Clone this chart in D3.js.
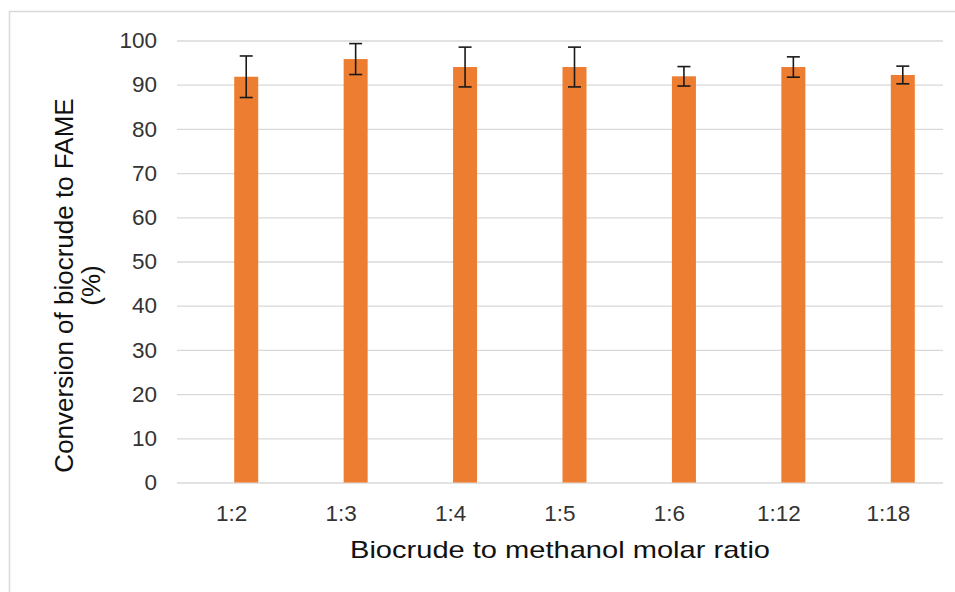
<!DOCTYPE html>
<html lang="en">

<head>
    <meta charset="UTF-8">
    <script src="https://d3js.org/d3.v7.min.js"></script>
    <title>Biocrude to FAME</title>
    <style>
        body {
            margin: 0;
            background: white;
        }

        svg text {
            font-family: Arial, "Liberation Sans", sans-serif;
        }
    </style>
</head>

<body>
    <div id="chart"></div>
    <script>
        /*---------------------- data ----------------------*/
        // molar ratios on the x axis
        const ratios = ["1:2", "1:3", "1:4", "1:5", "1:6", "1:12", "1:18"];
        // conversion of biocrude to FAME (%)
        const conversion = [91.8, 95.8, 94.0, 94.0, 91.9, 94.0, 92.2];
        // error bar half length (%)
        const errors = [4.7, 3.5, 4.5, 4.5, 2.2, 2.3, 2.0];
        // y tick values
        const yTicks = [0, 10, 20, 30, 40, 50, 60, 70, 80, 90, 100];

        /*-------------------- window setting --------------------*/
        const width = 955, height = 592;
        const plot = { left: 177, right: 943, top: 40.5, bottom: 482.5 };

        const svg = d3.select("#chart").append("svg")
            .attr("width", width)
            .attr("height", height);

        // light frame around the chart area
        svg.append("rect")
            .attr("x", 9.5).attr("y", 11.5)
            .attr("width", 980).attr("height", 620)
            .attr("fill", "none")
            .attr("stroke", "#d9d9d9")
            .attr("stroke-width", 1.5);

        /*---------------------- scales ----------------------*/
        const x = d3.scaleBand()
            .domain(ratios)
            .range([plot.left, plot.right]);

        const y = d3.scaleLinear()
            .domain([0, 100])
            .range([plot.bottom, plot.top]);

        const barW = 24;
        // bars sit slightly right of the category centre, like the original
        const barShift = 14.5;

        /*---------------------- grid + y axis ----------------------*/
        const yAxis = svg.append("g")
            .attr("transform", `translate(${plot.left},0)`)
            .call(d3.axisLeft(y).tickValues(yTicks).tickSize(-(plot.right - plot.left)).tickPadding(20));
        yAxis.select(".domain").remove();
        yAxis.selectAll(".tick line")
            .attr("stroke", "#d9d9d9")
            .attr("stroke-width", 1.3);
        yAxis.selectAll(".tick text")
            .attr("fill", "#333")
            .style("font-size", "22.5px");

        /*---------------------- x axis ----------------------*/
        const xAxis = svg.append("g")
            .attr("transform", `translate(0,${plot.bottom})`)
            .call(d3.axisBottom(x).tickSize(0).tickPadding(23));
        xAxis.select(".domain").remove();
        xAxis.selectAll(".tick text")
            .attr("fill", "#333")
            .style("font-size", "22.5px");

        /*---------------------- bars ----------------------*/
        const rows = ratios.map((r, i) => ({ ratio: r, value: conversion[i], err: errors[i] }));

        svg.append("g").selectAll("rect")
            .data(rows)
            .enter()
            .append("rect")
            .attr("x", d => x(d.ratio) + x.bandwidth() / 2 + barShift - barW / 2)
            .attr("y", d => y(d.value))
            .attr("width", barW)
            .attr("height", d => y(0) - y(d.value))
            .attr("fill", "#ed7d31");

        /*---------------------- error bars ----------------------*/
        const errG = svg.append("g")
            .attr("stroke", "#1a1a1a")
            .attr("stroke-width", 1.6);
        const cx = d => x(d.ratio) + x.bandwidth() / 2 + barShift;
        const cap = 6.5;

        errG.selectAll(".stem").data(rows).enter().append("line")
            .attr("x1", cx).attr("x2", cx)
            .attr("y1", d => y(d.value + d.err))
            .attr("y2", d => y(d.value - d.err));
        errG.selectAll(".capTop").data(rows).enter().append("line")
            .attr("x1", d => cx(d) - cap).attr("x2", d => cx(d) + cap)
            .attr("y1", d => y(d.value + d.err)).attr("y2", d => y(d.value + d.err));
        errG.selectAll(".capBot").data(rows).enter().append("line")
            .attr("x1", d => cx(d) - cap).attr("x2", d => cx(d) + cap)
            .attr("y1", d => y(d.value - d.err)).attr("y2", d => y(d.value - d.err));

        /*---------------------- axis titles ----------------------*/
        // the original text is a bit wider than plain Arial, so stretch it
        svg.append("text")
            .attr("x", 560)
            .attr("y", 558)
            .attr("text-anchor", "middle")
            .attr("fill", "#111")
            .attr("textLength", 420)
            .attr("lengthAdjust", "spacingAndGlyphs")
            .style("font-size", "24px")
            .text("Biocrude to methanol molar ratio");

        const yTitle = svg.append("text")
            .attr("transform", `translate(73,${(plot.top + plot.bottom) / 2 + 24}) rotate(-90)`)
            .attr("text-anchor", "middle")
            .attr("fill", "#111")
            .style("font-size", "26px");
        yTitle.append("tspan").attr("x", 0).attr("y", 0).text("Conversion of biocrude to FAME");
        yTitle.append("tspan").attr("x", 0).attr("y", 27).text("(%)");
    </script>
</body>

</html>
